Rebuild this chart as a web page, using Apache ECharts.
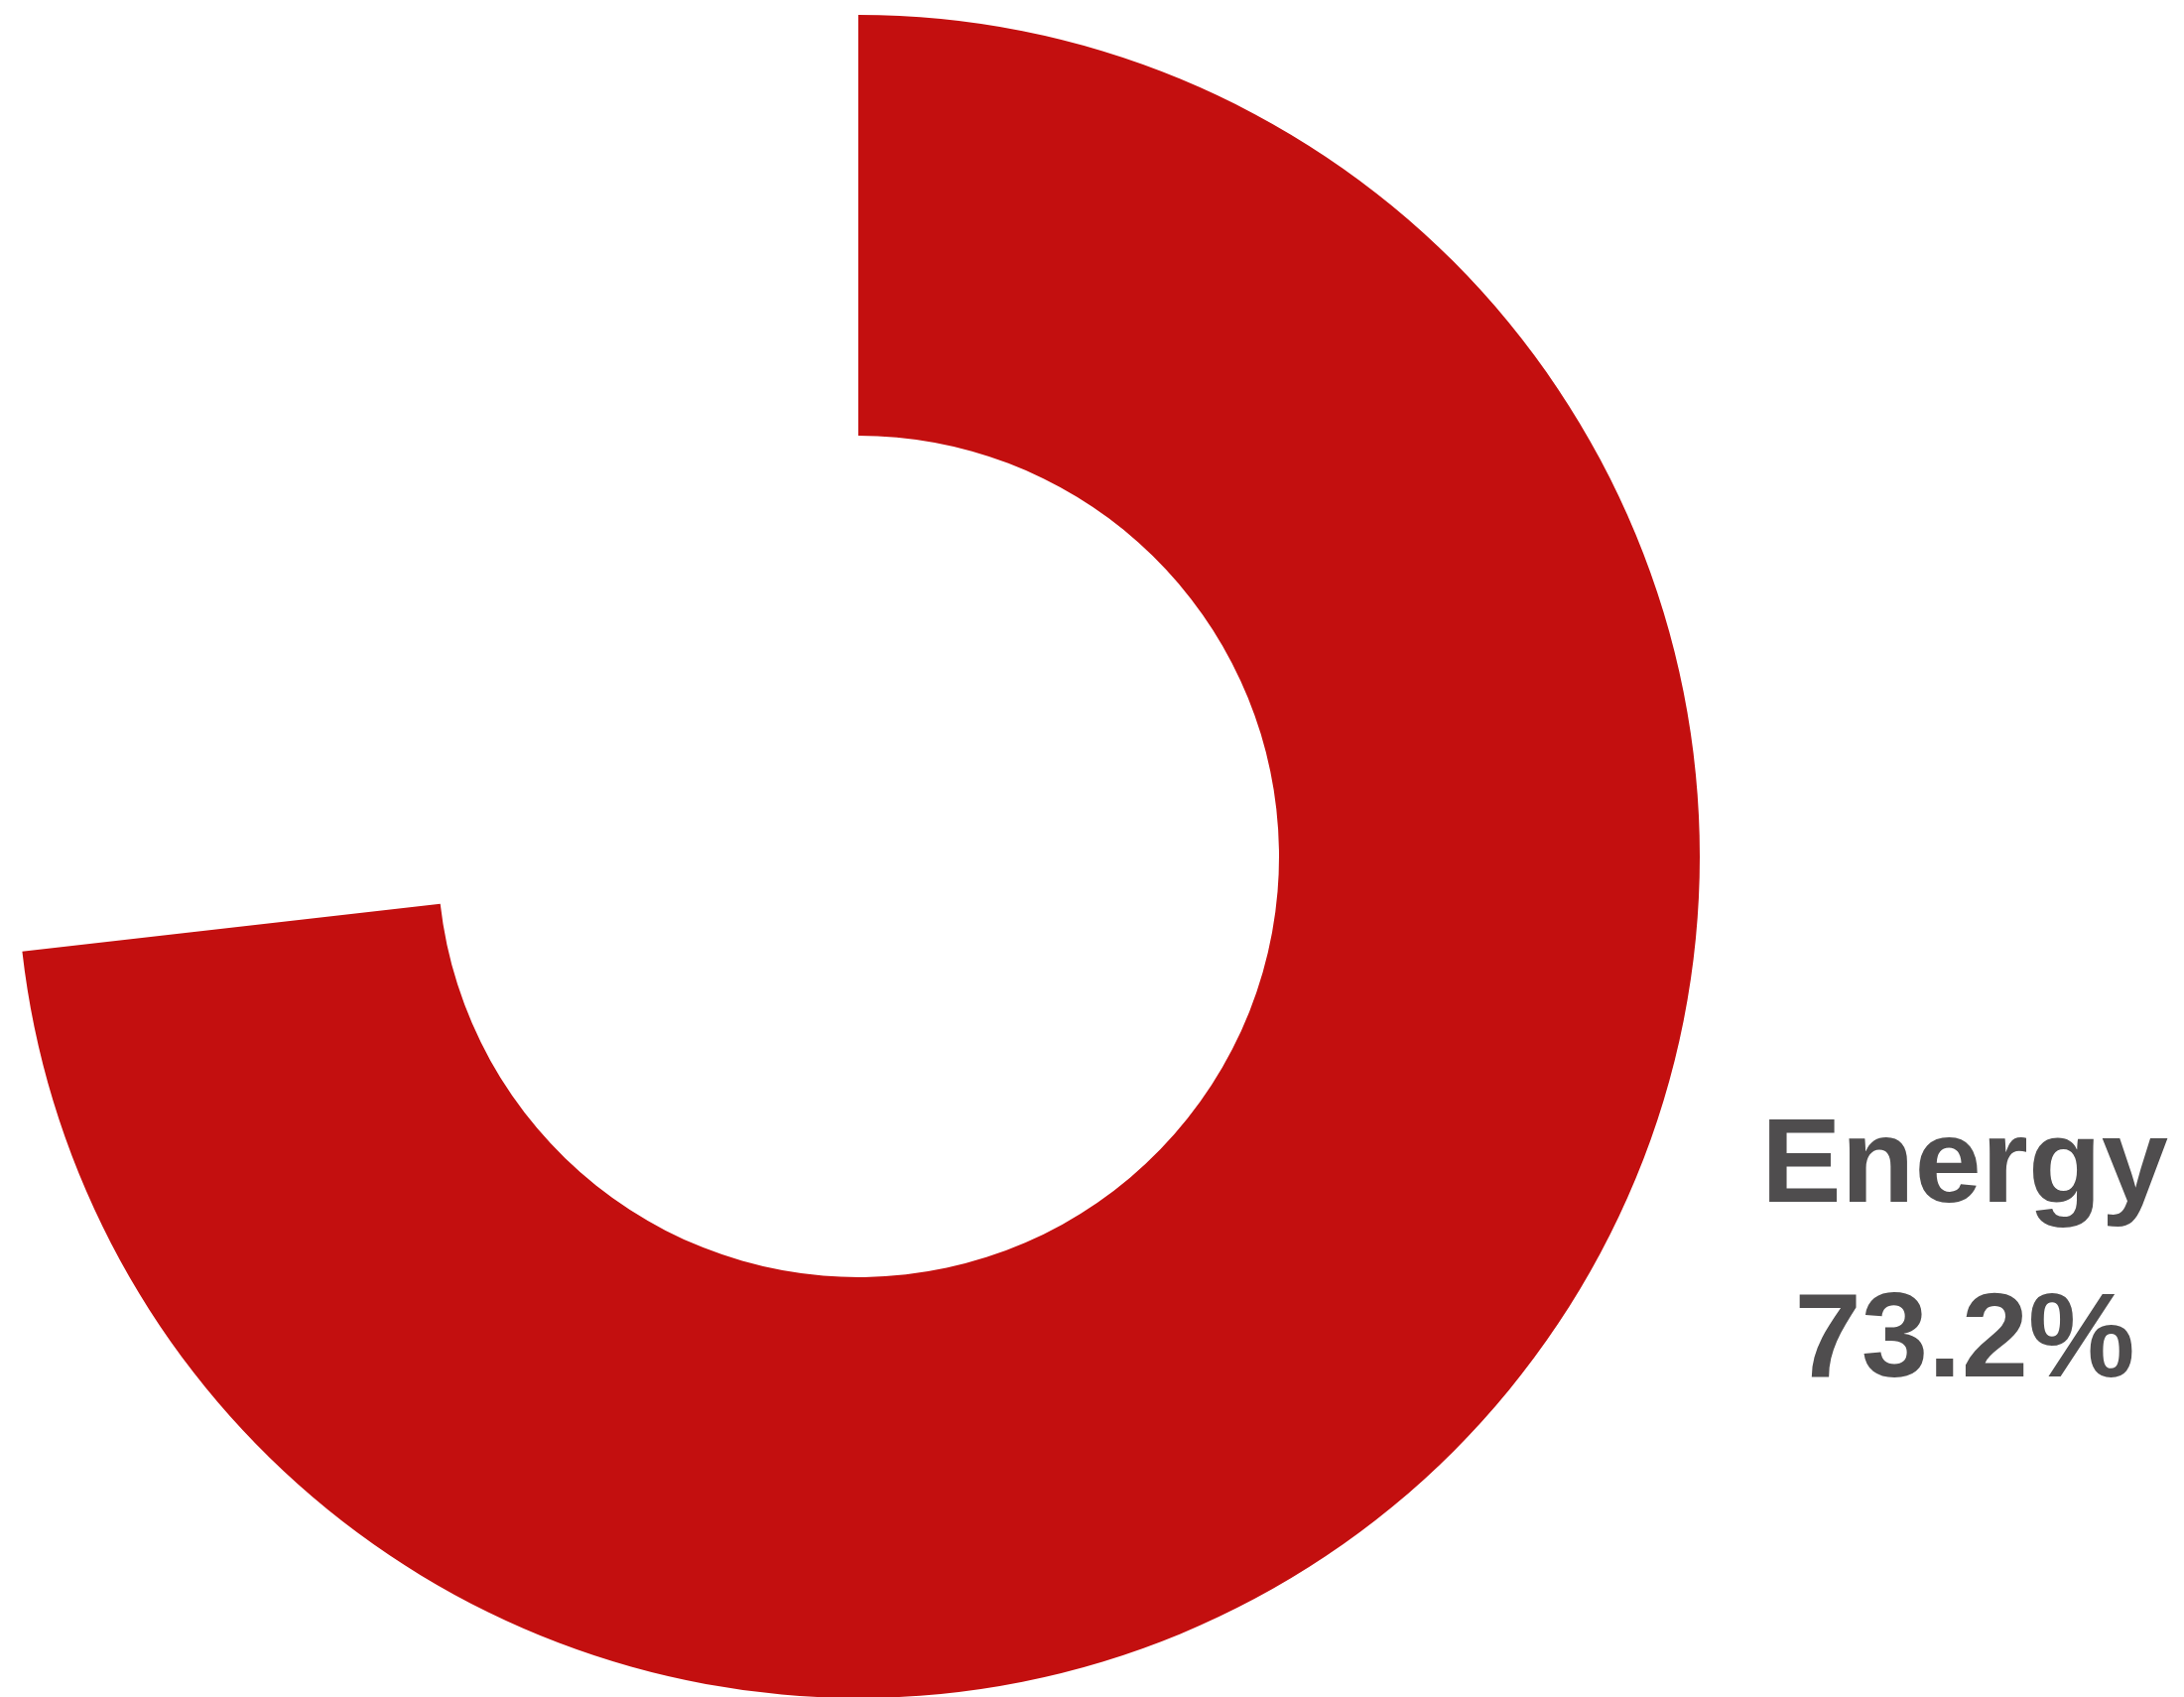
<!DOCTYPE html>
<html>
<head>
<meta charset="utf-8">
<script src="https://cdn.jsdelivr.net/npm/echarts@6/dist/echarts.min.js"></script>
<style>
  html,body{margin:0;padding:0;background:#fff;}
  #chart{width:2201px;height:1710px;}
</style>
</head>
<body>
<div id="chart"></div>
<script>
// slice names and values (remainder is left blank)
var names = ["Energy", "Other"];
var values = [73.2, 26.8];
var colors = ["#c30f0f", "transparent"];

var myChart = echarts.init(document.getElementById("chart"));

var pieData = names.map(function (n, i) {
  var item = { name: n, value: values[i], itemStyle: { color: colors[i] } };
  if (i > 0) {
    item.label = { show: false };
    item.emphasis = { disabled: true };
  }
  return item;
});

myChart.setOption({
  animation: false,
  series: [
    {
      type: "pie",
      center: [865, 863],
      radius: [424, 848],
      startAngle: 90,
      clockwise: true,
      percentPrecision: 1,
      silent: true,
      itemStyle: { borderWidth: 0 },
      label: {
        show: true,
        position: "outside",
        formatter: "{b}\n{d}%",
        fontFamily: "Liberation Sans",
        fontWeight: "bold",
        fontSize: 121,
        lineHeight: 176,
        color: "#4f4d4e",
        align: "center"
      },
      labelLine: { show: false },
      labelLayout: {
        x: 1980,
        y: 1266,
        align: "center",
        verticalAlign: "middle"
      },
      data: pieData
    }
  ]
});
</script>
</body>
</html>
